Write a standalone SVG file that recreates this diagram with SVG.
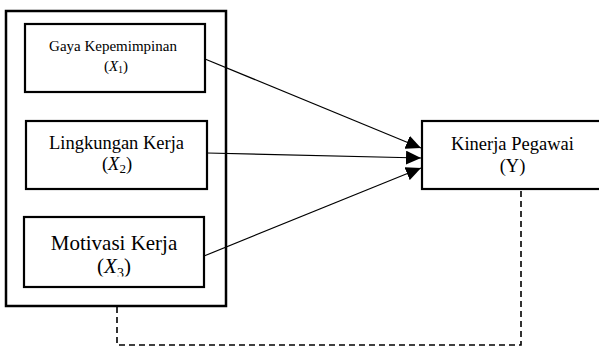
<svg xmlns="http://www.w3.org/2000/svg" width="599" height="347" viewBox="0 0 599 347">
<style>
.box{fill:#fff;stroke:#000;stroke-width:2.2}
.outer{fill:none;stroke:#000;stroke-width:2.5}
.t{font-family:"Liberation Serif","Times New Roman",serif;fill:#000;text-anchor:middle}
.m{font-style:italic}
.arr{fill:none;stroke:#000;stroke-width:1.2}
.dash{fill:none;stroke:#000;stroke-width:1.6;stroke-dasharray:6 4}
</style>
<defs>
<marker id="ah" markerUnits="userSpaceOnUse" markerWidth="16" markerHeight="14" refX="15" refY="7" orient="auto">
<path d="M0,0 L15,7 L0,14 Z" fill="#000"/>
</marker>
<clipPath id="c3"><rect x="0" y="0" width="599" height="276.5"/></clipPath>
</defs>
<rect class="outer" x="6" y="11" width="220" height="295"/>
<g id="x1">
<rect class="box" x="25" y="24" width="180" height="68"/>
<text class="t" x="113" y="51" font-size="15">Gaya Kepemimpinan</text>
<text class="t" x="116" y="71" font-size="15">(<tspan class="m">X</tspan><tspan font-size="10" dy="2">1</tspan><tspan dy="-2">)</tspan></text>
</g>
<g id="x2">
<rect class="box" x="26" y="121" width="181" height="68"/>
<text class="t" x="116.5" y="149" font-size="18.5">Lingkungan Kerja</text>
<text class="t" x="117" y="170" font-size="18.5">(<tspan class="m">X</tspan><tspan font-size="13" dy="3">2</tspan><tspan dy="-3">)</tspan></text>
</g>
<g id="x3">
<rect class="box" x="24" y="217" width="180" height="70"/>
<text class="t" x="114" y="250" font-size="21">Motivasi Kerja</text>
<text class="t" x="114" y="272.5" font-size="21" clip-path="url(#c3)">(<tspan class="m">X</tspan><tspan font-size="14" dy="5.5">3</tspan><tspan dy="-5.5">)</tspan></text>
</g>
<g id="y">
<rect class="box" x="422" y="121" width="180" height="68"/>
<text class="t" x="512.5" y="150" font-size="18.5">Kinerja Pegawai</text>
<text class="t" x="512.5" y="172" font-size="18.5">(Y)</text>
</g>
<g id="connectors">
<line class="arr" x1="205" y1="59" x2="421" y2="148" marker-end="url(#ah)"/>
<line class="arr" x1="207" y1="153" x2="421" y2="158" marker-end="url(#ah)"/>
<line class="arr" x1="204" y1="256" x2="421" y2="168" marker-end="url(#ah)"/>
<path class="dash" d="M117,307 V345 H521 V190"/>
</g>
</svg>
